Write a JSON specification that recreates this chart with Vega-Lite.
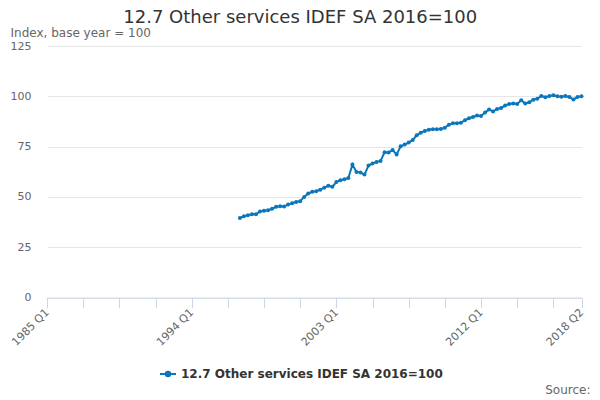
{
  "$schema": "https://vega.github.io/schema/vega-lite/v6.json",
  "autosize": "none",
  "width": 534.5,
  "height": 251.5,
  "padding": {"left": 47, "top": 46, "right": 18.5, "bottom": 102.5},
  "background": "white",
  "config": {
    "view": {"stroke": null},
    "font": "DejaVu Sans"
  },
  "title": {
    "text": "12.7 Other services IDEF SA 2016=100",
    "anchor": "middle",
    "frame": "group",
    "dx": -14,
    "offset": -1,
    "fontSize": 18,
    "fontWeight": "normal",
    "color": "#333333",
    "font": "DejaVu Sans"
  },
  "data": {
    "values": [
      {"quarter": "1997 Q1", "value": 39.5},
      {"quarter": "1997 Q2", "value": 40.4},
      {"quarter": "1997 Q3", "value": 40.9},
      {"quarter": "1997 Q4", "value": 41.4},
      {"quarter": "1998 Q1", "value": 41.4},
      {"quarter": "1998 Q2", "value": 42.8},
      {"quarter": "1998 Q3", "value": 43.1},
      {"quarter": "1998 Q4", "value": 43.4},
      {"quarter": "1999 Q1", "value": 44.1},
      {"quarter": "1999 Q2", "value": 45.1},
      {"quarter": "1999 Q3", "value": 45.4},
      {"quarter": "1999 Q4", "value": 45.2},
      {"quarter": "2000 Q1", "value": 46.2},
      {"quarter": "2000 Q2", "value": 46.9},
      {"quarter": "2000 Q3", "value": 47.5},
      {"quarter": "2000 Q4", "value": 47.9},
      {"quarter": "2001 Q1", "value": 50.0},
      {"quarter": "2001 Q2", "value": 51.7},
      {"quarter": "2001 Q3", "value": 52.5},
      {"quarter": "2001 Q4", "value": 52.8},
      {"quarter": "2002 Q1", "value": 53.6},
      {"quarter": "2002 Q2", "value": 54.6},
      {"quarter": "2002 Q3", "value": 55.5},
      {"quarter": "2002 Q4", "value": 55.0},
      {"quarter": "2003 Q1", "value": 57.4},
      {"quarter": "2003 Q2", "value": 58.3},
      {"quarter": "2003 Q3", "value": 58.8},
      {"quarter": "2003 Q4", "value": 59.4},
      {"quarter": "2004 Q1", "value": 66.1},
      {"quarter": "2004 Q2", "value": 62.4},
      {"quarter": "2004 Q3", "value": 62.1},
      {"quarter": "2004 Q4", "value": 61.1},
      {"quarter": "2005 Q1", "value": 65.6},
      {"quarter": "2005 Q2", "value": 66.6},
      {"quarter": "2005 Q3", "value": 67.4},
      {"quarter": "2005 Q4", "value": 67.9},
      {"quarter": "2006 Q1", "value": 72.2},
      {"quarter": "2006 Q2", "value": 72.1},
      {"quarter": "2006 Q3", "value": 73.3},
      {"quarter": "2006 Q4", "value": 71.1},
      {"quarter": "2007 Q1", "value": 75.2},
      {"quarter": "2007 Q2", "value": 76.0},
      {"quarter": "2007 Q3", "value": 77.0},
      {"quarter": "2007 Q4", "value": 78.3},
      {"quarter": "2008 Q1", "value": 80.6},
      {"quarter": "2008 Q2", "value": 81.9},
      {"quarter": "2008 Q3", "value": 82.8},
      {"quarter": "2008 Q4", "value": 83.4},
      {"quarter": "2009 Q1", "value": 83.6},
      {"quarter": "2009 Q2", "value": 83.6},
      {"quarter": "2009 Q3", "value": 83.8},
      {"quarter": "2009 Q4", "value": 84.4},
      {"quarter": "2010 Q1", "value": 85.9},
      {"quarter": "2010 Q2", "value": 86.6},
      {"quarter": "2010 Q3", "value": 86.6},
      {"quarter": "2010 Q4", "value": 86.8},
      {"quarter": "2011 Q1", "value": 88.1},
      {"quarter": "2011 Q2", "value": 89.1},
      {"quarter": "2011 Q3", "value": 89.7},
      {"quarter": "2011 Q4", "value": 90.4},
      {"quarter": "2012 Q1", "value": 90.2},
      {"quarter": "2012 Q2", "value": 91.9},
      {"quarter": "2012 Q3", "value": 93.5},
      {"quarter": "2012 Q4", "value": 92.5},
      {"quarter": "2013 Q1", "value": 93.7},
      {"quarter": "2013 Q2", "value": 94.2},
      {"quarter": "2013 Q3", "value": 95.4},
      {"quarter": "2013 Q4", "value": 96.2},
      {"quarter": "2014 Q1", "value": 96.4},
      {"quarter": "2014 Q2", "value": 96.2},
      {"quarter": "2014 Q3", "value": 98.0},
      {"quarter": "2014 Q4", "value": 96.4},
      {"quarter": "2015 Q1", "value": 97.0},
      {"quarter": "2015 Q2", "value": 98.3},
      {"quarter": "2015 Q3", "value": 98.8},
      {"quarter": "2015 Q4", "value": 100.2},
      {"quarter": "2016 Q1", "value": 99.5},
      {"quarter": "2016 Q2", "value": 100.1},
      {"quarter": "2016 Q3", "value": 100.5},
      {"quarter": "2016 Q4", "value": 100.0},
      {"quarter": "2017 Q1", "value": 99.8},
      {"quarter": "2017 Q2", "value": 100.1},
      {"quarter": "2017 Q3", "value": 99.7},
      {"quarter": "2017 Q4", "value": 98.4},
      {"quarter": "2018 Q1", "value": 99.7},
      {"quarter": "2018 Q2", "value": 100.0}
    ]
  },
  "mark": {
    "type": "line",
    "strokeWidth": 2,
    "point": {"filled": true, "size": 16}
  },
  "encoding": {
    "x": {
      "field": "quarter",
      "type": "ordinal",
      "sort": null,
      "scale": {
        "type": "point",
        "padding": 0,
        "domain": [
          "1985 Q1","1985 Q2","1985 Q3","1985 Q4",
          "1986 Q1","1986 Q2","1986 Q3","1986 Q4",
          "1987 Q1","1987 Q2","1987 Q3","1987 Q4",
          "1988 Q1","1988 Q2","1988 Q3","1988 Q4",
          "1989 Q1","1989 Q2","1989 Q3","1989 Q4",
          "1990 Q1","1990 Q2","1990 Q3","1990 Q4",
          "1991 Q1","1991 Q2","1991 Q3","1991 Q4",
          "1992 Q1","1992 Q2","1992 Q3","1992 Q4",
          "1993 Q1","1993 Q2","1993 Q3","1993 Q4",
          "1994 Q1","1994 Q2","1994 Q3","1994 Q4",
          "1995 Q1","1995 Q2","1995 Q3","1995 Q4",
          "1996 Q1","1996 Q2","1996 Q3","1996 Q4",
          "1997 Q1","1997 Q2","1997 Q3","1997 Q4",
          "1998 Q1","1998 Q2","1998 Q3","1998 Q4",
          "1999 Q1","1999 Q2","1999 Q3","1999 Q4",
          "2000 Q1","2000 Q2","2000 Q3","2000 Q4",
          "2001 Q1","2001 Q2","2001 Q3","2001 Q4",
          "2002 Q1","2002 Q2","2002 Q3","2002 Q4",
          "2003 Q1","2003 Q2","2003 Q3","2003 Q4",
          "2004 Q1","2004 Q2","2004 Q3","2004 Q4",
          "2005 Q1","2005 Q2","2005 Q3","2005 Q4",
          "2006 Q1","2006 Q2","2006 Q3","2006 Q4",
          "2007 Q1","2007 Q2","2007 Q3","2007 Q4",
          "2008 Q1","2008 Q2","2008 Q3","2008 Q4",
          "2009 Q1","2009 Q2","2009 Q3","2009 Q4",
          "2010 Q1","2010 Q2","2010 Q3","2010 Q4",
          "2011 Q1","2011 Q2","2011 Q3","2011 Q4",
          "2012 Q1","2012 Q2","2012 Q3","2012 Q4",
          "2013 Q1","2013 Q2","2013 Q3","2013 Q4",
          "2014 Q1","2014 Q2","2014 Q3","2014 Q4",
          "2015 Q1","2015 Q2","2015 Q3","2015 Q4",
          "2016 Q1","2016 Q2","2016 Q3","2016 Q4",
          "2017 Q1","2017 Q2","2017 Q3","2017 Q4",
          "2018 Q1","2018 Q2"
        ]
      },
      "axis": {
        "values": ["1985 Q1","1987 Q2","1989 Q3","1991 Q4","1994 Q1","1996 Q2","1998 Q3","2000 Q4","2003 Q1","2005 Q2","2007 Q3","2009 Q4","2012 Q1","2014 Q2","2016 Q3","2018 Q2"],
        "labelExpr": "indexof(['1985 Q1','1994 Q1','2003 Q1','2012 Q1','2018 Q2'], datum.value) >= 0 ? datum.value : ''",
        "labelAngle": -45,
        "labelAlign": "right",
        "labelBaseline": "middle",
        "labelOverlap": false,
        "labelBound": false,
        "labelFlush": false,
        "labelPadding": 3,
        "labelFont": "DejaVu Sans",
        "labelFontSize": 11,
        "labelColor": "#666666",
        "tickSize": 10,
        "tickColor": "#ccd6eb",
        "tickWidth": 1,
        "domainColor": "#ccd6eb",
        "domainWidth": 1,
        "grid": false,
        "title": "Source:",
        "titleAnchor": null,
        "titleAlign": "right",
        "titleBaseline": "alphabetic",
        "titleX": 543,
        "titleY": 96,
        "titleFont": "DejaVu Sans",
        "titleFontSize": 12,
        "titleFontWeight": "normal",
        "titleColor": "#666666"
      }
    },
    "y": {
      "field": "value",
      "type": "quantitative",
      "scale": {"domain": [0, 125], "nice": false, "zero": true},
      "axis": {
        "values": [0, 25, 50, 75, 100, 125],
        "ticks": false,
        "domain": false,
        "grid": true,
        "gridColor": "#e6e6e6",
        "gridWidth": 1,
        "labelPadding": 16,
        "labelFont": "DejaVu Sans",
        "labelFontSize": 11,
        "labelColor": "#666666",
        "title": "Index, base year = 100",
        "titleAngle": 0,
        "titleAlign": "left",
        "titleBaseline": "alphabetic",
        "titleAnchor": null,
        "titleX": -37,
        "titleY": -10,
        "titleFont": "DejaVu Sans",
        "titleFontSize": 12,
        "titleFontWeight": "normal",
        "titleColor": "#666666"
      }
    },
    "color": {
      "datum": "12.7 Other services IDEF SA 2016=100",
      "type": "nominal",
      "scale": {"range": ["#0a77bd"]},
      "legend": {
        "title": null,
        "orient": "none",
        "legendX": 112,
        "legendY": 319,
        "symbolType": "M-1,0H1M-0.28,0A0.28,0.28,0,1,1,0.28,0A0.28,0.28,0,1,1,-0.28,0Z",
        "symbolSize": 256,
        "symbolStrokeWidth": 2,
        "symbolStrokeColor": "#0a77bd",
        "symbolFillColor": "#0a77bd",
        "labelOffset": 4,
        "labelLimit": 0,
        "labelFont": "DejaVu Sans",
        "labelFontSize": 12,
        "labelFontWeight": "bold",
        "labelColor": "#333333"
      }
    }
  }
}
